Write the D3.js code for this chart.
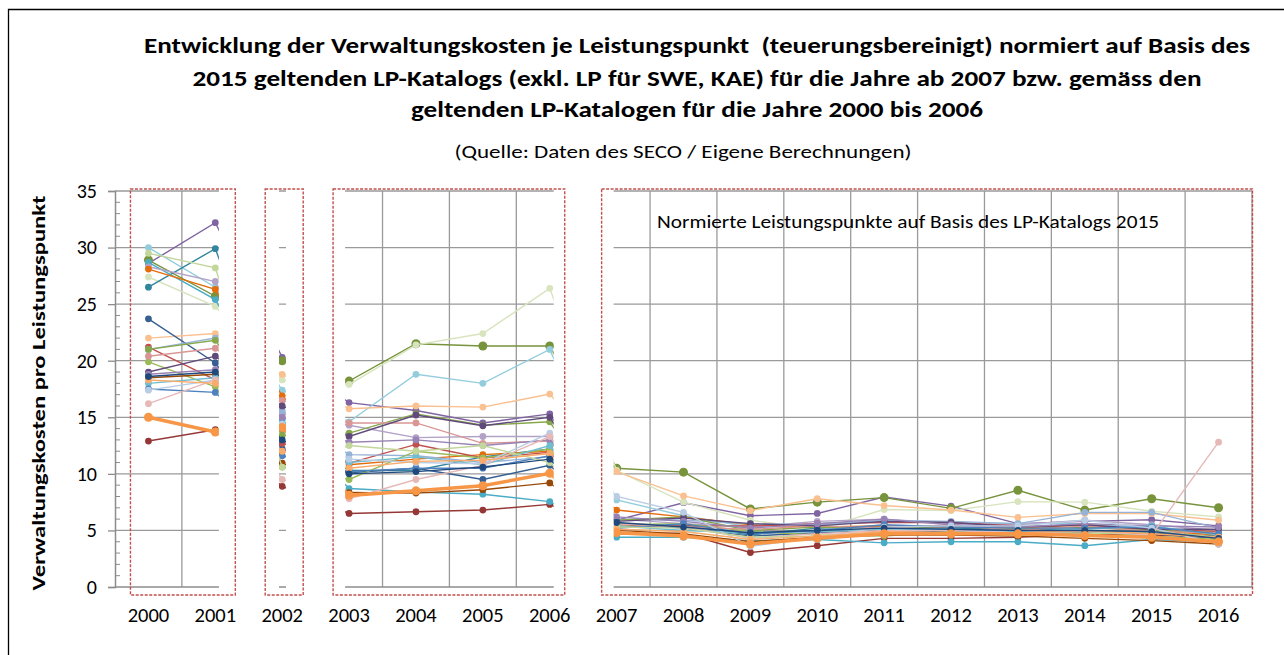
<!DOCTYPE html>
<html>
<head>
<meta charset="utf-8">
<script src="https://cdn.jsdelivr.net/npm/d3@7"></script>
<style>
  body { margin: 0; background: #fff; }
  text { font-family: Carlito, Calibri, "Open Sans", sans-serif; fill: #000; }
</style>
</head>
<body>
<div id="chart"></div>
<script>
// size of the page
var width = 1284,
    height = 655;

// categories and y ticks
var jahre = [2000, 2001, 2002, 2003, 2004, 2005, 2006, 2007, 2008, 2009, 2010, 2011, 2012, 2013, 2014, 2015, 2016];
var yTicks = [0, 5, 10, 15, 20, 25, 30, 35];

// values per series (2000 .. 2016)
var r01 = [15.0, 13.7, 14.1, 8.1, 8.5, 8.95, 10.05, 4.8, 4.5, 3.8, 4.3, 4.7, 4.7, 4.7, 4.55, 4.4, 4.0];
var r02 = [12.9, 13.9, 8.9, 6.5, 6.65, 6.8, 7.3, 4.7, 4.75, 3.05, 3.65, 4.3, 4.3, 4.4, 4.7, 4.6, 4.4];
var r03 = [28.6, 32.2, 20.3, 16.3, 15.6, 14.5, 15.3, 5.9, 7.45, 6.3, 6.5, 7.95, 7.15, 5.6, 5.8, 5.95, 5.4];
var r04 = [28.9, 25.7, 20.0, 18.2, 21.5, 21.3, 21.3, 10.5, 10.15, 6.9, 7.5, 7.9, 6.95, 8.55, 6.8, 7.8, 7.0];
var r05 = [27.4, 24.8, 18.3, 17.9, 21.4, 22.4, 26.4, 10.3, 7.5, 5.9, 5.1, 6.85, 6.75, 7.55, 7.5, 6.7, 6.2];
var r06 = [30.0, 26.5, 17.4, 14.6, 18.8, 18.0, 21.0, 7.7, 6.3, 5.3, 5.6, 5.8, 5.7, 5.6, 5.6, 5.2, 4.6];
var r07 = [22.0, 22.4, 18.8, 15.75, 16.0, 15.9, 17.05, 10.2, 8.05, 6.75, 7.8, 7.2, 6.8, 6.15, 6.5, 6.5, 5.9];
var r08 = [26.5, 29.9, 13.9, 10.3, 10.3, 11.5, 12.2, 5.3, 5.5, 4.6, 5.2, 5.3, 5.2, 5.1, 5.0, 4.8, 4.5];
var r09 = [28.7, 25.4, 14.8, 8.7, 8.4, 8.2, 7.55, 4.4, 4.4, 4.1, 4.2, 3.9, 4.0, 4.0, 3.65, 4.2, 4.0];
var r10 = [28.3, 27.0, 15.3, 14.3, 13.2, 13.3, 13.3, 6.0, 5.6, 5.3, 5.8, 6.0, 5.6, 5.5, 5.9, 5.5, 5.0];
var r11 = [28.1, 26.3, 16.9, 10.8, 11.3, 11.7, 12.0, 6.8, 6.2, 5.5, 5.3, 5.4, 5.3, 5.2, 5.5, 5.0, 4.6];
var r12 = [23.7, 19.8, 12.2, 10.1, 10.5, 9.5, 10.75, 5.6, 5.2, 4.5, 4.8, 5.0, 4.9, 4.7, 4.8, 4.7, 4.3];
var r13 = [21.2, 18.3, 12.7, 10.95, 12.6, 11.4, 11.9, 5.5, 5.4, 5.4, 5.6, 5.7, 5.7, 5.4, 5.2, 5.1, 4.9];
var r14 = [21.0, 22.0, 15.6, 11.7, 11.6, 11.0, 11.5, 6.0, 5.9, 5.6, 5.5, 5.9, 5.8, 5.6, 6.6, 6.6, 5.2];
var r15 = [19.9, 17.7, 10.6, 9.5, 12.0, 11.4, 12.2, 5.5, 5.6, 4.9, 4.6, 4.5, 4.9, 4.6, 4.9, 4.5, 4.2];
var r16 = [21.0, 21.8, 13.4, 13.6, 15.3, 14.3, 14.6, 5.9, 6.2, 5.0, 5.3, 5.2, 5.4, 5.1, 5.3, 5.0, 4.8];
var r17 = [20.4, 21.1, 16.5, 14.5, 14.5, 12.7, 12.9, 5.6, 5.3, 5.1, 5.4, 5.2, 5.5, 5.0, 5.4, 4.9, 4.8];
var r18 = [19.0, 20.4, 16.0, 13.3, 15.2, 14.25, 15.0, 5.8, 6.1, 5.6, 5.4, 5.8, 5.7, 5.3, 5.5, 5.1, 5.1];
var r19 = [18.8, 19.2, 15.0, 12.8, 13.0, 12.5, 13.0, 6.2, 5.8, 5.2, 5.6, 6.0, 5.5, 5.3, 5.6, 5.4, 5.3];
var r20 = [18.5, 18.8, 10.95, 8.35, 8.3, 8.6, 9.2, 5.0, 4.7, 4.0, 4.4, 4.6, 4.6, 4.5, 4.3, 4.1, 3.8];
var r21 = [18.0, 18.5, 14.2, 11.0, 11.5, 10.8, 12.5, 5.4, 5.0, 4.8, 4.9, 5.1, 5.1, 4.9, 5.1, 5.4, 4.6];
var r22 = [17.5, 17.2, 11.6, 10.2, 10.5, 10.5, 11.6, 5.2, 5.6, 4.7, 5.0, 5.5, 5.3, 5.2, 5.2, 5.3, 4.7];
var r23 = [17.4, 18.3, 14.4, 11.3, 11.0, 10.9, 13.6, 8.0, 6.6, 3.6, 4.4, 5.3, 5.4, 5.4, 5.9, 5.2, 3.8];
var r24 = [16.2, 18.3, 9.5, 7.8, 9.5, 10.75, 13.3, 5.6, 5.3, 4.3, 4.7, 5.0, 5.0, 4.8, 4.9, 4.6, 12.8];
var r25 = [29.5, 28.2, 10.6, 12.5, 12.0, 12.5, 11.0, 5.3, 5.2, 4.4, 4.5, 4.8, 4.7, 4.6, 4.7, 4.9, 4.4];
var r26 = [18.3, 18.0, 12.0, 10.5, 11.1, 11.2, 11.8, 5.1, 4.9, 4.2, 4.5, 4.9, 4.8, 4.8, 5.0, 4.7, 4.4];
var r27 = [18.6, 19.0, 13.0, 10.0, 10.2, 10.6, 11.3, 5.7, 5.3, 4.8, 5.0, 5.2, 5.1, 5.0, 5.0, 4.9, 4.3];

// drawing order: thick orange one last
var reihen = [r02, r03, r04, r05, r06, r07, r08, r09, r10, r11, r12, r13, r14,
              r15, r16, r17, r18, r19, r20, r21, r22, r23, r24, r25, r26, r27, r01];

// styles, same order as reihen
var farben = ["#953735", "#8064A2", "#77933C", "#D7E4BD", "#93CDDD", "#FAC090", "#31859C",
              "#4BACC6", "#B3A2C7", "#E46C0A", "#376092", "#C0504D", "#95B3D7", "#9BBB59",
              "#86A84A", "#D99694", "#604A7B", "#9983B5", "#984807", "#6FBDD1", "#4F81BD",
              "#B9CDE5", "#E6B9B8", "#C3D69B", "#F9AB6B", "#1F497D", "#F79646"];

var svg = d3.select("#chart")
  .append("svg")
    .attr("width", width)
    .attr("height", height);

// outer frame (left and top edge visible)
svg.append("path")
  .attr("d", "M8.5," + height + " V9.5 H" + width)
  .attr("fill", "none")
  .attr("stroke", "#000")
  .attr("stroke-width", 1.3);

// scales
var x = d3.scaleBand().domain(jahre).range([115, 1252]).padding(0);
var xc = function(j) { return x(j) + x.bandwidth() / 2; };
var y = d3.scaleLinear().domain([0, 35]).range([587, 191]);

// gridlines
var grid = svg.append("g");
grid.selectAll(".gh")
  .data(yTicks.filter(function(d) { return d > 0; }))
  .enter().append("line")
    .attr("x1", 115).attr("x2", 1252)
    .attr("y1", function(d) { return y(d); })
    .attr("y2", function(d) { return y(d); })
    .attr("stroke", "#9a9a9a").attr("stroke-width", 1.3);
grid.selectAll(".gv")
  .data(jahre.slice(1).map(function(j) { return x(j); }).concat([1252]))
  .enter().append("line")
    .attr("x1", function(d) { return d; })
    .attr("x2", function(d) { return d; })
    .attr("y1", y(35)).attr("y2", y(0))
    .attr("stroke", "#9a9a9a").attr("stroke-width", 1.3);
// x axis line
grid.append("line")
  .attr("x1", 115).attr("x2", 1252)
  .attr("y1", y(0)).attr("y2", y(0))
  .attr("stroke", "#8c8c8c").attr("stroke-width", 1.5);

// series
var linie = d3.line()
  .x(function(d, i) { return xc(jahre[i]); })
  .y(function(d) { return y(d); });

reihen.forEach(function(werte, k) {
  var dick = (werte === r01);
  var gross = (werte === r04 || werte === r01);
  var g = svg.append("g");
  g.append("path")
    .attr("d", linie(werte))
    .attr("fill", "none")
    .attr("stroke", farben[k])
    .attr("stroke-width", dick ? 3.5 : 1.4);
  g.selectAll("circle")
    .data(werte)
    .enter().append("circle")
      .attr("cx", function(d, i) { return xc(jahre[i]); })
      .attr("cy", function(d) { return y(d); })
      .attr("r", gross ? 4.5 : 3.4)
      .attr("fill", farben[k]);
});

// white gaps between the year groups
var luecken = [
  [xc(2001) + 3.6, xc(2002) - 3.2],
  [xc(2002) + 3.8, xc(2003) - 4],
  [xc(2006) + 4, xc(2007) - 3]
];
svg.selectAll(".luecke")
  .data(luecken)
  .enter().append("rect")
    .attr("x", function(d) { return d[0]; })
    .attr("width", function(d) { return d[1] - d[0]; })
    .attr("y", 182).attr("height", 412)
    .attr("fill", "#fff");

// y axis
var yAxis = svg.append("g")
  .attr("transform", "translate(115,0)")
  .call(d3.axisLeft(y).tickValues(yTicks).tickSize(7).tickPadding(11));
yAxis.select(".domain").attr("stroke", "#8c8c8c").attr("stroke-width", 1.5);
yAxis.selectAll(".tick line").attr("stroke", "#8c8c8c").attr("stroke-width", 1.3);
yAxis.selectAll(".tick text")
  .style("font-size", "20px")
  .style("font-family", "Carlito, Calibri, 'Open Sans', sans-serif")
  .attr("fill", "#000");
// minor ticks
svg.append("g").selectAll("line")
  .data(d3.range(1, 35).filter(function(d) { return d % 5 !== 0; }))
  .enter().append("line")
    .attr("x1", 115).attr("x2", 120)
    .attr("y1", function(d) { return y(d); })
    .attr("y2", function(d) { return y(d); })
    .attr("stroke", "#8c8c8c").attr("stroke-width", 1);

// red dashed boxes around the year groups
var boxen = [
  [xc(2000) - 18, xc(2001) + 20],
  [xc(2002) - 17, xc(2002) + 21],
  [xc(2003) - 16, xc(2006) + 15],
  [xc(2007) - 15, 1252.5]
];
svg.selectAll(".box")
  .data(boxen)
  .enter().append("rect")
    .attr("x", function(d) { return d[0]; })
    .attr("width", function(d) { return d[1] - d[0]; })
    .attr("y", y(35) - 2).attr("height", y(0) - y(35) + 10)
    .attr("fill", "none")
    .attr("stroke", "#C0504D")
    .attr("stroke-width", 1.4)
    .attr("stroke-dasharray", "3,1.5");

// x labels
svg.selectAll(".xl")
  .data(jahre)
  .enter().append("text")
    .attr("x", function(d) { return xc(d); })
    .attr("y", 622)
    .attr("text-anchor", "middle")
    .style("font-size", "20.5px")
    .text(function(d) { return d; });

// titles
var titel = [
  ["Entwicklung der Verwaltungskosten je Leistungspunkt  (teuerungsbereinigt) normiert auf Basis des", 53, 1106],
  ["2015 geltenden LP-Katalogs (exkl. LP für SWE, KAE) für die Jahre ab 2007 bzw. gemäss den", 85.5, 1009],
  ["geltenden LP-Katalogen für die Jahre 2000 bis 2006", 117, 572]
];
svg.selectAll(".titel")
  .data(titel)
  .enter().append("text")
    .attr("x", 697)
    .attr("y", function(d) { return d[1]; })
    .attr("text-anchor", "middle")
    .attr("textLength", function(d) { return d[2]; })
    .attr("lengthAdjust", "spacingAndGlyphs")
    .style("font-size", "21.5px")
    .style("font-weight", "bold")
    .style("white-space", "pre")
    .text(function(d) { return d[0]; });

svg.append("text")
  .attr("x", 683).attr("y", 158)
  .attr("text-anchor", "middle")
  .attr("textLength", 457)
  .attr("lengthAdjust", "spacingAndGlyphs")
  .style("font-size", "19px")
  .text("(Quelle: Daten des SECO / Eigene Berechnungen)");

svg.append("text")
  .attr("x", 657).attr("y", 228)
  .attr("textLength", 502)
  .attr("lengthAdjust", "spacingAndGlyphs")
  .style("font-size", "18.5px")
  .text("Normierte Leistungspunkte auf Basis des LP-Katalogs 2015");

// y axis title
svg.append("text")
  .attr("transform", "translate(45,393) rotate(-90)")
  .attr("text-anchor", "middle")
  .attr("textLength", 395)
  .attr("lengthAdjust", "spacingAndGlyphs")
  .style("font-size", "18px")
  .style("font-weight", "bold")
  .text("Verwaltungskosten pro Leistungspunkt");
</script>
</body>
</html>
